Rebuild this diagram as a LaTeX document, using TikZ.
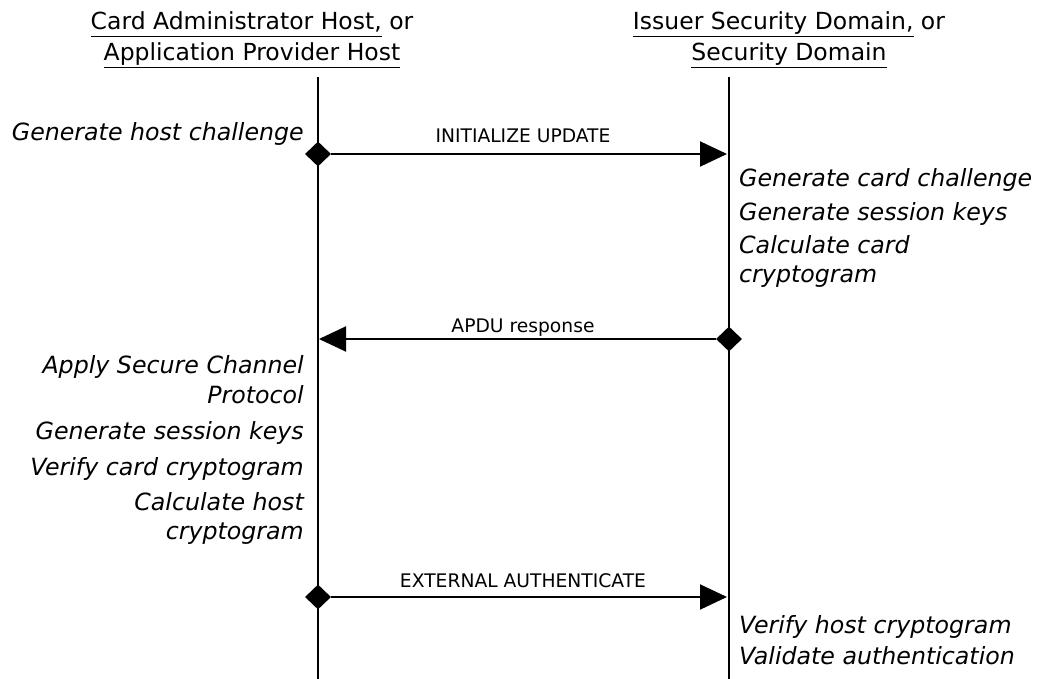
\documentclass[tikz,border=0pt]{standalone}
\usepackage{fontspec}
\setmainfont{DejaVu Sans}
\usetikzlibrary{arrows.meta,shapes.geometric}
\newsavebox\ulbox
\newcommand\myul[1]{\sbox\ulbox{#1}\rlap{\rule[-7.5pt]{\wd\ulbox}{1.6pt}}\usebox\ulbox}
\tikzset{
  hdr/.style={font=\fontsize{23.5}{28}\selectfont, inner sep=0pt, anchor=base},
  lbl/.style={font=\fontsize{18.7}{22}\selectfont, inner sep=0pt, anchor=base},
  lnote/.style={font=\fontsize{23.7}{28}\selectfont\itshape, inner sep=0pt, anchor=base east},
  rnote/.style={font=\fontsize{23.7}{28}\selectfont\itshape, inner sep=0pt, anchor=base west},
  life/.style={line width=2pt},
  msg/.style={line width=2pt, -{Triangle[length=27pt,width=25pt]}},
  dia/.style={diamond, fill=black, inner sep=0pt, minimum width=26pt, minimum height=25pt},
}
\begin{document}
\begin{tikzpicture}[x=1pt,y=-1pt]
\useasboundingbox[fill=white] (0,0) rectangle (1045,679);
% headers
\node[hdr] (hl1) at (252,30) {\myul{Card Administrator Host,} or};
\node[hdr] (hl2) at (252,61) {\myul{Application Provider Host}};
\node[hdr] (hr1) at (789,30) {\myul{Issuer Security Domain,} or};
\node[hdr] (hr2) at (789,61) {\myul{Security Domain}};
% lifelines
\coordinate (lt) at (318,77);
\coordinate (lb) at (318,679);
\coordinate (rt) at (729,77);
\coordinate (rb) at (729,679);
\draw[life] (lt) -- (lb);
\draw[life] (rt) -- (rb);
% message 1
\node[dia] (d1) at (318,154) {};
\coordinate (t1) at (727,154);
\draw[msg] (d1) -- (t1);
\node[lbl] (m1) at (523,143) {INITIALIZE UPDATE};
\node[lnote] (n0) at (304,141) {Generate host challenge};
% card side
\node[rnote] (r1) at (739,187) {Generate card challenge};
\node[rnote] (r2) at (739,221) {Generate session keys};
\node[rnote] (r3) at (739,254) {Calculate card};
\node[rnote] (r4) at (739,283) {cryptogram};
% message 2
\node[dia] (d2) at (729,339) {};
\coordinate (t2) at (319,339);
\draw[msg] (d2) -- (t2);
\node[lbl] (m2) at (523,333) {APDU response};
% host side
\node[lnote] (l1) at (304,373) {Apply Secure Channel};
\node[lnote] (l2) at (304,403) {Protocol};
\node[lnote] (l3) at (304,439) {Generate session keys};
\node[lnote] (l4) at (304,475) {Verify card cryptogram};
\node[lnote] (l5) at (304,510) {Calculate host};
\node[lnote] (l6) at (304,539) {cryptogram};
% message 3
\node[dia] (d3) at (318,597) {};
\coordinate (t3) at (727,597);
\draw[msg] (d3) -- (t3);
\node[lbl] (m3) at (523,587) {EXTERNAL AUTHENTICATE};
% card side final
\node[rnote] (r5) at (739,633) {Verify host cryptogram};
\node[rnote] (r6) at (739,664) {Validate authentication};
\end{tikzpicture}
\end{document}
